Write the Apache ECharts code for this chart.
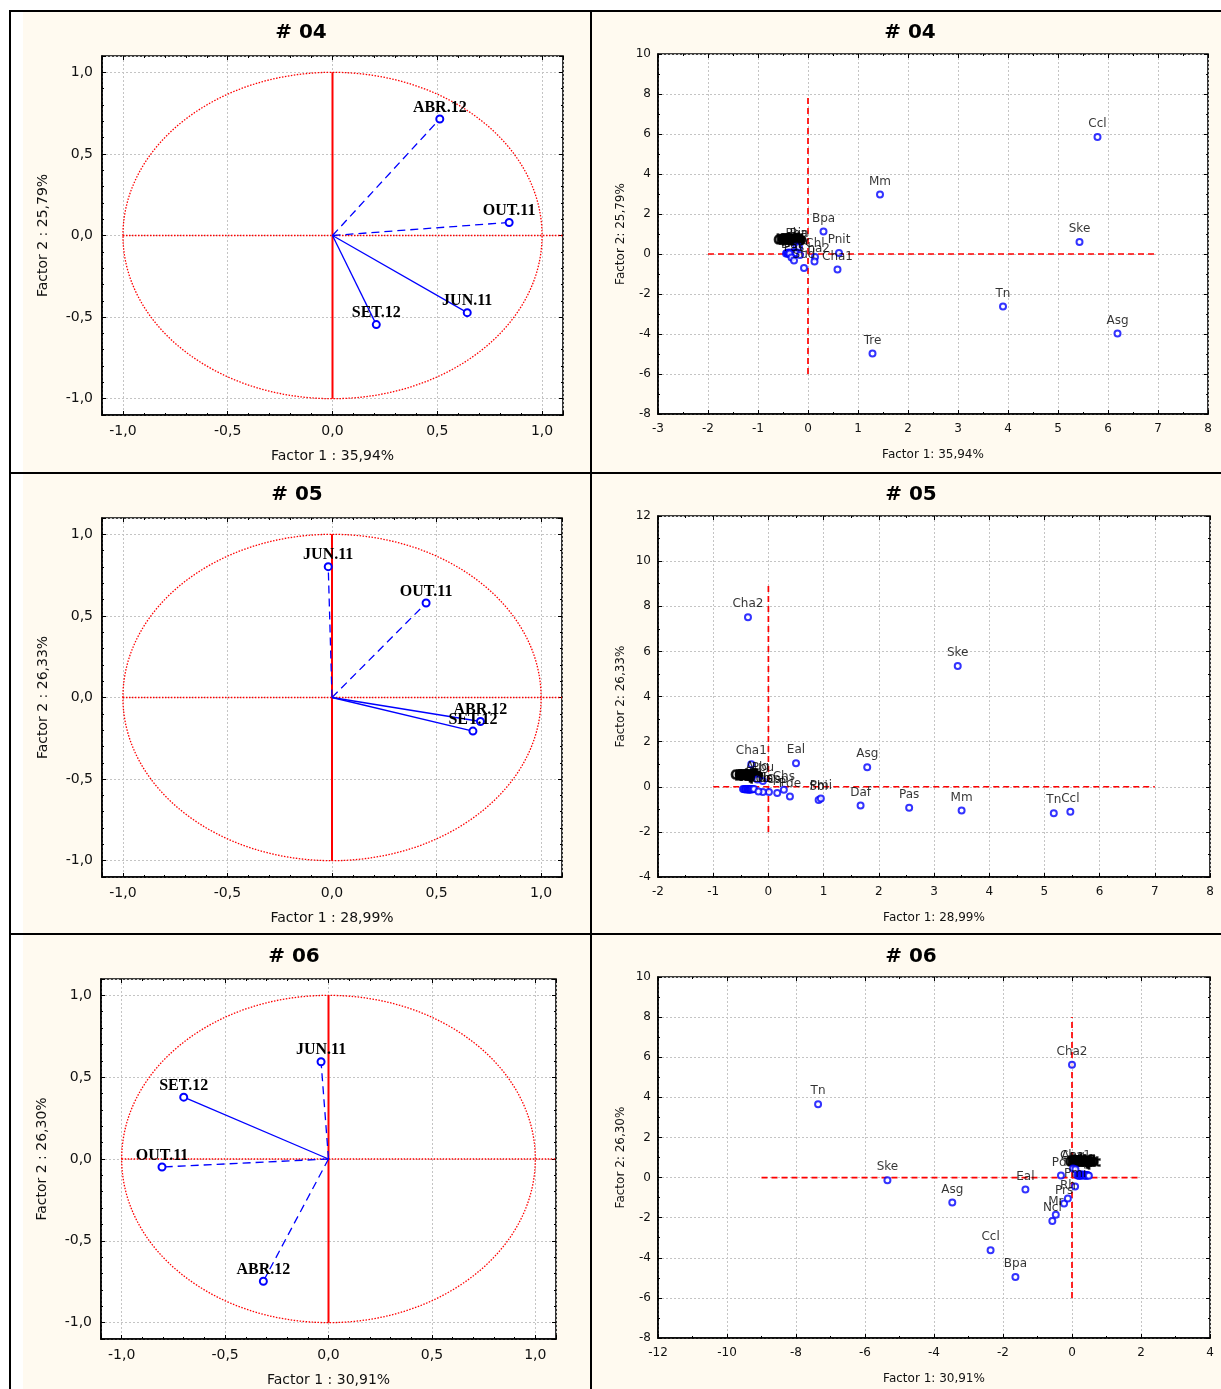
<!DOCTYPE html>
<html><head><meta charset="utf-8">
<script src="https://cdn.jsdelivr.net/npm/echarts/dist/echarts.min.js"></script>
<style>
html,body{margin:0;padding:0;background:#fff;}
#wrap{position:relative;width:1221px;height:1389px;overflow:hidden;}
.bg{position:absolute;left:23px;top:12px;width:1198px;height:1377px;background:#FFFAF0;}
.ln{position:absolute;background:#000;}
#c{position:absolute;left:0;top:0;width:1221px;height:1389px;}
</style>
</head><body>
<div id="wrap">
  <div class="bg"></div>
  <div class="ln" style="left:8.5px;top:10px;width:2.5px;height:1379px"></div>
  <div class="ln" style="left:8.5px;top:10px;width:1212.5px;height:2.2px"></div>
  <div class="ln" style="left:589.8px;top:10px;width:2.4px;height:1379px"></div>
  <div class="ln" style="left:8.5px;top:471.6px;width:1212.5px;height:2.2px"></div>
  <div class="ln" style="left:8.5px;top:932.6px;width:1212.5px;height:2.2px"></div>
  <div id="c"></div>
</div>
<script>
// ---------- DATA ----------
// Correlation circles: loadings of the sampling campaigns on factors 1 and 2
const vecNames = ['ABR.12', 'OUT.11', 'JUN.11', 'SET.12'];
const load04F1 = [0.512, 0.843, 0.643, 0.209];
const load04F2 = [0.714, 0.080, -0.473, -0.546];
const load05F1 = [0.710, 0.450, -0.018, 0.674];
const load05F2 = [-0.147, 0.579, 0.802, -0.206];
const load06F1 = [-0.315, -0.805, -0.036, -0.700];
const load06F2 = [-0.747, -0.049, 0.594, 0.378];

// Explained variance (%) of factor 1 and factor 2
const var04 = ['35,94', '25,79'];
const var05 = ['28,99', '26,33'];
const var06 = ['30,91', '26,30'];

// Species scores #04
const sp04Names = ['Ccl', 'Mm', 'Bpa', 'Ske', 'Pnit', 'Cha1', 'Tn', 'Asg', 'Tre', 'Chl', 'Cha2', 'Sud', 'Eal', 'Daf', 'Pas', 'Rh', 'Pha', 'Bin'];
const sp04F1 = [5.79, 1.44, 0.31, 5.43, 0.62, 0.59, 3.90, 6.19, 1.29, 0.14, 0.13, -0.08, -0.37, -0.33, -0.28, -0.16, -0.23, -0.18];
const sp04F2 = [5.85, 2.97, 1.13, 0.60, 0.05, -0.77, -2.62, -3.98, -4.97, -0.15, -0.37, -0.70, 0.03, -0.17, -0.32, -0.05, 0.37, 0.35];
const cl04Names = ['Gde', 'Lda', 'Pal', 'Cur', 'Dbr', 'Gst', 'Pdi', 'Odo', 'Nsp', 'Tsp', 'Csp', 'Lan', 'Pbr', 'Hta', 'Gfl', 'Dfo'];
const cl04F1 = [-0.44, -0.42, -0.40, -0.39, -0.37, -0.36, -0.35, -0.33, -0.32, -0.31, -0.30, -0.29, -0.28, -0.27, -0.26, -0.24];
const cl04F2 = [0.02, 0.05, 0.00, 0.08, 0.03, 0.06, -0.02, 0.04, 0.07, 0.01, 0.05, -0.01, 0.03, 0.06, 0.02, 0.04];

// Species scores #05
const sp05Names = ['Cha2', 'Ske', 'Cha1', 'Eal', 'Asg', 'Daf', 'Pas', 'Mm', 'Tn', 'Ccl', 'Sbi', 'Pmi', 'Pde', 'Chs', 'Csp', 'Nsp', 'Lda', 'Odo', 'Aug', 'Pbu'];
const sp05F1 = [-0.37, 3.43, -0.31, 0.50, 1.79, 1.67, 2.55, 3.50, 5.17, 5.47, 0.91, 0.95, 0.39, 0.28, 0.16, 0.01, -0.10, -0.18, -0.20, -0.10];
const sp05F2 = [7.51, 5.35, 1.00, 1.04, 0.86, -0.83, -0.93, -1.05, -1.17, -1.11, -0.59, -0.52, -0.43, -0.13, -0.28, -0.23, -0.23, -0.21, 0.32, 0.25];
const cl05Names = ['Gde', 'Pal', 'Cur', 'Dbr', 'Gst', 'Pdi', 'Tsp', 'Lan', 'Pbr', 'Hta', 'Gfl', 'Dfo', 'Pnit', 'Bpa', 'Tre', 'Rh'];
const cl05F1 = [-0.46, -0.44, -0.42, -0.41, -0.40, -0.38, -0.37, -0.36, -0.35, -0.34, -0.33, -0.32, -0.31, -0.30, -0.28, -0.26];
const cl05F2 = [-0.10, -0.11, -0.10, -0.12, -0.11, -0.10, -0.12, -0.10, -0.13, -0.12, -0.10, -0.11, -0.12, -0.10, -0.11, -0.10];

// Species scores #06
const sp06Names = ['Cha2', 'Tn', 'Ske', 'Asg', 'Eal', 'Ccl', 'Bpa', 'Ncl', 'Mr', 'Prs', 'Rh', 'Pmi', 'Pdi', 'Ang', 'Cha1'];
const sp06F1 = [0.00, -7.36, -5.35, -3.47, -1.35, -2.36, -1.64, -0.57, -0.47, -0.23, -0.12, 0.09, -0.32, 0.03, 0.10];
const sp06F2 = [5.63, 3.65, -0.13, -1.24, -0.59, -3.63, -4.96, -2.17, -1.85, -1.29, -1.04, -0.45, 0.10, 0.45, 0.42];
const cl06Names = ['Gde', 'Lda', 'Pal', 'Cur', 'Dbr', 'Gst', 'Odo', 'Nsp', 'Tsp', 'Csp', 'Lan', 'Pbr', 'Hta', 'Gfl', 'Dfo', 'Pnit'];
const cl06F1 = [0.16, 0.19, 0.21, 0.23, 0.25, 0.27, 0.29, 0.31, 0.33, 0.35, 0.37, 0.39, 0.41, 0.43, 0.46, 0.49];
const cl06F2 = [0.10, 0.14, 0.08, 0.12, 0.16, 0.09, 0.13, 0.11, 0.15, 0.10, 0.14, 0.12, 0.08, 0.13, 0.11, 0.09];

// Reference (origin) lines of the score plots: [x,y] end points
const ref04H = [[-2, 0], [7, 0]], ref04V = [[0, -6], [0, 8]];
const ref05H = [[-1, 0], [7, 0]], ref05V = [[0, -2], [0, 9]];
const ref06H = [[-9, 0], [2, 0]], ref06V = [[0, -6], [0, 8]];
// Reference lines of the correlation circles
const circH = [[-1, 0], [1.1, 0]], circV = [[0, -1], [0, 1]];
const unitCircle = [[0, 0, 1]]; // centre x, centre y, radius

// Axis ranges
const circRange = [-1.1, 1.1];
const sc04X = [-3, 8], sc04Y = [-8, 10];
const sc05X = [-2, 8], sc05Y = [-4, 12];
const sc06X = [-12, 4], sc06Y = [-8, 10];

// ---------- STYLE / LAYOUT ----------
const dashedVec = {
  '04': ['ABR.12', 'OUT.11'],
  '05': ['OUT.11', 'JUN.11'],
  '06': ['ABR.12', 'OUT.11', 'JUN.11']
};
const BLUE = '#0000ff', RED = '#ff0000';
const SANS = '"DejaVu Sans", "Liberation Sans", sans-serif';

const panels = [
  { key: '04', kind: 'circle', grid: { left: 102, top: 56, width: 461, height: 359 }, title: [301, 33], f1: load04F1, f2: load04F2, v: var04 },
  { key: '04', kind: 'score', grid: { left: 658, top: 54, width: 550, height: 360 }, title: [910, 33], xr: sc04X, yr: sc04Y, xi: 1,
    names: sp04Names, f1: sp04F1, f2: sp04F2, cn: cl04Names, c1: cl04F1, c2: cl04F2, rh: ref04H, rv: ref04V, v: var04 },
  { key: '05', kind: 'circle', grid: { left: 102, top: 518, width: 460, height: 359 }, title: [297, 495], f1: load05F1, f2: load05F2, v: var05 },
  { key: '05', kind: 'score', grid: { left: 658, top: 516, width: 552, height: 361 }, title: [911, 495], xr: sc05X, yr: sc05Y, xi: 1,
    names: sp05Names, f1: sp05F1, f2: sp05F2, cn: cl05Names, c1: cl05F1, c2: cl05F2, rh: ref05H, rv: ref05V, v: var05 },
  { key: '06', kind: 'circle', grid: { left: 101, top: 979, width: 455, height: 360 }, title: [294, 957], f1: load06F1, f2: load06F2, v: var06 },
  { key: '06', kind: 'score', grid: { left: 658, top: 977, width: 552, height: 361 }, title: [911, 957], xr: sc06X, yr: sc06Y, xi: 2,
    names: sp06Names, f1: sp06F1, f2: sp06F2, cn: cl06Names, c1: cl06F1, c2: cl06F2, rh: ref06H, rv: ref06V, v: var06 }
];

const grids = [], xAxes = [], yAxes = [], xMirror = [], yMirror = [], series = [], graphics = [];

function fmtComma(v) {
  return Math.abs(v) < 1e-9 ? '0,0' : v.toFixed(1).replace('.', ',');
}

panels.forEach((p, i) => {
  grids.push(Object.assign({ show: true, backgroundColor: '#fff', borderColor: '#000', borderWidth: 1.6, containLabel: false }, p.grid));
  graphics.push({
    type: 'text', x: p.title[0], y: p.title[1], z: 100,
    style: { text: '# ' + p.key, font: 'bold 20px "DejaVu Sans"', fill: '#000', align: 'center', verticalAlign: 'middle', textAlign: 'center', textVerticalAlign: 'middle' }
  });
  const isC = p.kind === 'circle';
  const fs = isC ? 14 : 12;
  const common = {
    gridIndex: i, type: 'value',
    axisLine: { show: true, onZero: false, lineStyle: { color: '#000', width: 1.6 } },
    axisTick: { show: true, inside: true, length: 4, lineStyle: { color: '#000', width: 1 } },
    minorTick: { show: true, splitNumber: isC ? 5 : 2, length: 2, lineStyle: { color: '#000', width: 1 } },
    splitLine: { show: true, lineStyle: { color: '#c4c4c4', type: [2, 2], width: 1 } },
    axisLabel: { color: '#111', fontFamily: SANS, fontSize: fs },
    nameLocation: 'middle',
    nameTextStyle: { color: '#111', fontFamily: SANS, fontSize: fs }
  };
  const xr = isC ? circRange : p.xr, yr = isC ? circRange : p.yr;
  const xExtra = isC ? { min: xr[0], max: xr[1] } : { min: xr[0], max: xr[1], interval: p.xi };
  const yExtra = isC ? { min: yr[0], max: yr[1] } : { min: yr[0], max: yr[1], interval: 2 };
  if (isC) {
    xAxes.push(Object.assign({}, common, xExtra, {
      axisLabel: Object.assign({}, common.axisLabel, { margin: 9, showMinLabel: false, showMaxLabel: false, formatter: fmtComma }),
      name: 'Factor 1 : ' + p.v[0] + '%', nameGap: 34
    }));
    yAxes.push(Object.assign({}, common, yExtra, {
      axisLabel: Object.assign({}, common.axisLabel, { margin: 9, showMinLabel: false, showMaxLabel: false, formatter: fmtComma }),
      name: 'Factor 2 : ' + p.v[1] + '%', nameGap: 52
    }));
  } else {
    xAxes.push(Object.assign({}, common, xExtra, {
      axisLabel: Object.assign({}, common.axisLabel, { margin: 9 }),
      name: 'Factor 1: ' + p.v[0] + '%', nameGap: 35
    }));
    yAxes.push(Object.assign({}, common, yExtra, {
      axisLabel: Object.assign({}, common.axisLabel, { margin: 7 }),
      name: 'Factor 2: ' + p.v[1] + '%', nameGap: 31
    }));
  }
  // mirrored tick axes on top and right edges of the frame (appended after the main axes)
  const mirror = {
    gridIndex: i, type: 'value',
    axisLine: { show: false, onZero: false }, axisLabel: { show: false }, splitLine: { show: false },
    axisTick: common.axisTick, minorTick: common.minorTick
  };
  xMirror.push(Object.assign({}, mirror, xExtra, { position: 'top' }));
  yMirror.push(Object.assign({}, mirror, yExtra, { position: 'right' }));

  if (isC) {
    series.push({
      type: 'custom', xAxisIndex: i, yAxisIndex: i, silent: true, z: 1, data: unitCircle,
      renderItem: function (params, api) {
        const c = api.coord([api.value(0), api.value(1)]);
        const s = api.size([api.value(2), api.value(2)]);
        return { type: 'ellipse', shape: { cx: c[0], cy: c[1], rx: s[0], ry: s[1] },
          style: { fill: 'none', stroke: RED, lineWidth: 1.3, lineDash: [1.5, 1.5] } };
      }
    });
    series.push({ type: 'line', xAxisIndex: i, yAxisIndex: i, data: circH, symbol: 'none', silent: true, z: 2,
      lineStyle: { color: RED, width: 1.4, type: [1.5, 1.5] } });
    series.push({ type: 'line', xAxisIndex: i, yAxisIndex: i, data: circV, symbol: 'none', silent: true, z: 2,
      lineStyle: { color: RED, width: 2 } });
    vecNames.forEach((n, k) => {
      const dashed = dashedVec[p.key].indexOf(n) >= 0;
      series.push({
        type: 'line', xAxisIndex: i, yAxisIndex: i, z: 5, silent: true,
        symbol: 'emptyCircle', symbolSize: 7, showSymbol: true,
        lineStyle: { color: BLUE, width: 1.3, type: dashed ? [8, 5] : 'solid' },
        itemStyle: { color: BLUE, borderColor: BLUE, borderWidth: 1 },
        label: { show: true, position: 'top', distance: -1, formatter: '{b}', color: '#000',
          fontFamily: '"Liberation Serif", "Times New Roman", serif', fontWeight: 'bold', fontSize: 16 },
        data: [
          { value: [0, 0], symbol: 'none', label: { show: false } },
          { value: [p.f1[k], p.f2[k]], name: n }
        ]
      });
    });
  } else {
    series.push({ type: 'line', xAxisIndex: i, yAxisIndex: i, data: p.rh, symbol: 'none', silent: true, z: 2,
      lineStyle: { color: RED, width: 1.7, type: [6, 4] } });
    series.push({ type: 'line', xAxisIndex: i, yAxisIndex: i, data: p.rv, symbol: 'none', silent: true, z: 2,
      lineStyle: { color: RED, width: 1.7, type: [6, 4] } });
    series.push({
      type: 'scatter', xAxisIndex: i, yAxisIndex: i, z: 4, silent: true,
      symbol: 'emptyCircle', symbolSize: 6,
      itemStyle: { color: BLUE, borderColor: BLUE, borderWidth: 1 },
      label: { show: true, position: 'top', distance: 3, formatter: '{b}', color: '#000',
        fontFamily: SANS, fontSize: 12, textBorderColor: '#000', textBorderWidth: 1.6 },
      data: p.cn.map((n, k) => ({ name: n, value: [p.c1[k], p.c2[k]] }))
    });
    series.push({
      type: 'scatter', xAxisIndex: i, yAxisIndex: i, z: 5, silent: true,
      symbol: 'emptyCircle', symbolSize: 6,
      itemStyle: { color: BLUE, borderColor: BLUE, borderWidth: 1 },
      label: { show: true, position: 'top', distance: 3, formatter: '{b}', color: '#000',
        fontFamily: SANS, fontSize: 12 },
      data: p.names.map((n, k) => ({ name: n, value: [p.f1[k], p.f2[k]] }))
    });
  }
});

const chart = echarts.init(document.getElementById('c'), null, { renderer: 'canvas' });
chart.setOption({
  backgroundColor: 'transparent',
  animation: false,
  grid: grids, xAxis: xAxes.concat(xMirror), yAxis: yAxes.concat(yMirror),
  series: series,
  graphic: graphics
});
</script>
</body></html>
